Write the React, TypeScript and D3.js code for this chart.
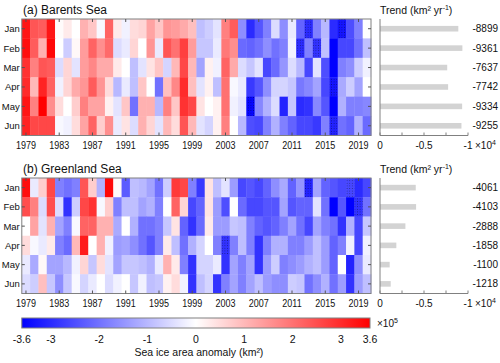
import { useRef, useEffect } from "react";
import * as d3 from "d3";

// sea ice area anomaly, x10^5 km^2, rows Jan..Jun, columns 1979..2020
const years = d3.range(1979, 2021);
const months = ["Jan", "Feb", "Mar", "Apr", "May", "Jun"];
const yearTicks = [1979, 1983, 1987, 1991, 1995, 1999, 2003, 2007, 2011, 2015, 2019];

const barentsAnomaly = [
  [3.3, 2.4, 2.3, 3.3, 0.05, 0.3, 0.0, 1.1, 0.8, -0.1, 2.2, 0.3, -0.2, 0.5, 0.6, 1.3, 0.8, 1.5, 1.4, 1.2, 0.9, -0.9, -0.7, -0.4, 1.8, 2.3, -1.6, -3.0, -2.4, -1.8, -0.5, -1.6, -0.3, -2.2, -3.0, -1.8, -1.0, -3.0, -3.3, -2.5, -1.8, 0.0],
  [3.4, 2.3, 1.1, 3.5, 0.0, -0.7, 0.1, 1.4, 2.2, 1.6, 2.1, -0.5, -0.3, 0.6, 0.0, 1.5, -0.3, 2.4, 2.0, 2.7, 1.4, -0.8, -0.8, -0.3, 1.9, 1.6, -2.1, -2.2, -2.0, -1.6, -2.0, -1.8, -0.2, -3.0, -1.8, -2.9, -0.9, -3.6, -2.6, -2.6, -2.0, -0.9],
  [2.9, 1.8, 2.4, 2.3, -0.5, 0.6, -0.4, 1.4, 1.7, 1.2, 1.2, 0.3, 0.0, -0.9, -0.4, 0.4, 0.8, -0.6, 1.0, 2.6, 1.0, -1.3, 0.2, -0.2, 2.2, 1.2, -0.5, -0.8, -0.4, -2.6, -2.1, -1.5, -0.5, -1.0, -2.6, -0.4, -2.5, -3.6, -1.8, -1.6, -0.7, -0.2],
  [3.0, 1.0, 3.1, 2.2, -0.2, 0.6, 1.2, 1.5, 2.3, 1.5, 0.5, -1.0, -0.3, -0.9, 0.8, 0.0, -2.0, 0.9, 1.7, 3.0, 0.9, -0.4, 0.2, -0.9, 2.0, -0.1, -0.3, -2.8, -2.4, -1.6, -0.6, -0.6, -0.8, -1.9, -1.7, -1.3, -2.6, -3.3, -1.2, -0.7, -1.3, 0.0],
  [3.3, 1.8, 3.6, 1.6, 0.5, 0.0, 0.7, 1.8, 1.3, 1.3, 0.2, -0.4, 0.8, -2.0, 1.1, 1.1, -1.0, 1.8, 0.8, 2.9, 2.6, 0.4, 0.0, 0.2, 2.0, -0.2, -0.4, -3.5, -1.7, -1.1, -0.5, -3.1, -0.8, -3.0, -2.9, -1.7, -2.4, -3.6, -1.1, -1.8, -1.8, -1.7],
  [3.1, 2.6, 2.6, 2.6, -0.1, -0.2, 0.5, 1.3, 2.2, 0.7, 1.6, -0.3, 0.4, -0.5, 1.1, 0.6, -0.4, 1.0, 0.5, 2.4, 1.0, -0.4, -0.6, 0.2, 1.8, 0.0, -1.0, -2.5, -2.6, -1.8, -1.1, -1.8, -2.2, -2.6, -2.6, -2.8, -1.8, -3.1, -2.0, -2.2, -1.1, -2.1],
];

const greenlandAnomaly = [
  [3.4, -0.3, 0.7, 2.6, -1.8, -2.0, -1.8, 2.4, 0.7, -1.1, 3.5, 0.1, -2.3, -0.9, -1.0, -1.3, -2.0, -0.7, 2.8, 2.6, -1.8, -2.8, 0.4, -0.9, -0.4, -1.4, -2.6, -2.4, -2.6, -2.2, -1.6, -1.2, -2.2, -1.5, -3.1, -1.3, -2.2, -2.4, -2.6, -2.6, -3.0, -2.6],
  [2.5, 1.8, -0.5, 2.5, -0.5, -2.9, -0.7, 2.6, 2.9, -0.1, 0.7, -1.8, -0.9, -0.9, -1.3, -1.1, -1.8, 0.0, 2.2, 0.6, -2.6, -2.2, 0.4, -1.4, -2.5, 0.0, -2.1, -2.6, -2.6, -2.4, -2.4, -1.3, -2.4, -2.2, -2.2, -0.4, -2.0, -3.6, -2.4, -3.6, -2.9, -2.0],
  [0.0, 1.3, -0.4, 1.1, -1.3, -1.8, -0.1, 2.2, 2.2, 1.1, 1.1, -1.2, 0.0, -1.1, -2.0, -2.0, -1.8, -0.8, 0.4, -2.2, -2.9, -2.1, 0.3, -1.4, -1.4, -0.8, -0.9, -1.8, -2.2, -2.4, -2.2, -1.8, -1.3, -2.0, -2.6, -1.3, -1.8, -2.0, -2.9, -1.1, -2.6, -0.8],
  [0.5, -0.1, -0.3, 0.3, -1.8, -2.1, 1.0, 3.2, 0.0, 1.1, -0.2, -1.4, -1.3, -1.6, -2.0, -2.4, -1.8, 0.3, -0.9, -2.0, -1.1, -0.6, 0.0, -1.8, -2.9, -1.8, -0.9, -1.8, -2.9, -1.8, -1.1, -1.1, -1.8, -1.8, -1.4, -0.9, -1.4, -2.2, -1.8, -0.2, -2.6, -0.2],
  [-0.3, -1.2, 0.1, -1.3, -1.3, -1.0, -0.2, 0.6, -0.8, 0.5, -0.4, -1.3, -0.8, -0.8, -0.9, -1.1, -0.3, 1.1, 0.3, -1.8, -2.9, -0.6, -0.6, -0.3, -2.9, -1.3, -1.8, -1.3, -2.9, -1.4, -0.7, -1.8, -1.6, -1.4, -1.1, -0.9, -1.4, -2.2, 0.0, -3.1, -1.6, -0.3],
  [-0.5, -0.7, 0.9, -0.8, -1.6, -0.8, -0.1, -0.6, -0.3, 0.0, -0.5, -0.2, 0.0, -0.8, -0.2, -0.9, -0.8, 0.2, 0.5, -0.2, -2.9, -0.9, -0.6, -2.9, -1.8, -1.3, -1.8, -1.3, -0.9, -1.4, -1.6, -1.6, -0.7, -0.8, -2.0, -1.6, -1.1, -2.0, -1.4, -2.9, -1.4, -0.9],
];

// stippled (significant) cells: [month index, year]
const barentsSig = [[0, 2013], [0, 2017], [1, 2012], [1, 2014], [3, 2016], [4, 2006], [5, 2016]];
const greenlandSig = [[0, 2013], [0, 2018], [1, 2019], [3, 2003]];

const barentsTrend = [-8899, -9361, -7637, -7742, -9334, -9255];
const greenlandTrend = [-4061, -4103, -2888, -1858, -1100, -1218];
const trendTicks = [0, -2500, -5000, -7500, -10000];
const trendLabels = [0, -5000, -10000];
const colorTicks = [-3.6, -3, -2, -1, 0, 1, 2, 3, 3.6];

const FONT = "'Liberation Sans', Arial, sans-serif";

export default function App() {
  const ref = useRef(null);

  function init() {
    ref.current.innerHTML = "";
    const width = 500,
      height = 363;
    const heat = { left: 21.8, right: 371 };
    const trendX = { left: 380, right: 468 };

    const svg = d3
      .select(ref.current)
      .append("svg")
      .attr("width", width)
      .attr("height", height)
      .style("position", "absolute")
      .style("left", 0)
      .style("top", 0)
      .style("font-family", FONT)
      .style("background", "#fff");

    const color = d3
      .scaleLinear()
      .domain([-3.6, 0, 3.6])
      .range(["#0000ff", "#ffffff", "#ff0000"])
      .clamp(true);

    const x = d3.scaleBand().domain(years).range([heat.left, heat.right]);
    const tx = d3.scaleLinear().domain([0, -10000]).range([trendX.left, trendX.right]);

    const defs = svg.append("defs");
    const pat = defs
      .append("pattern")
      .attr("id", "dots")
      .attr("width", 2.6)
      .attr("height", 2.6)
      .attr("patternUnits", "userSpaceOnUse");
    pat.append("circle").attr("cx", 1.3).attr("cy", 1.3).attr("r", 0.45).attr("fill", "#000").attr("opacity", 0.55);

    const grad = defs.append("linearGradient").attr("id", "cbar");
    grad.append("stop").attr("offset", "0%").attr("stop-color", "#0000ff");
    grad.append("stop").attr("offset", "50%").attr("stop-color", "#ffffff");
    grad.append("stop").attr("offset", "100%").attr("stop-color", "#ff0000");

    function panel({ top, bottom, title, data, sig, trend }) {
      const y = d3.scaleBand().domain(months).range([top, bottom]);
      const g = svg.append("g");

      // cells
      data.forEach((row, i) => {
        g.selectAll(null)
          .data(row)
          .join("rect")
          .attr("x", (d, j) => x(years[j]))
          .attr("y", y(months[i]))
          .attr("width", x.bandwidth() + 0.4)
          .attr("height", y.bandwidth() + 0.4)
          .attr("fill", (d) => color(d));
      });

      // stipple
      g.selectAll(null)
        .data(sig)
        .join("rect")
        .attr("x", (d) => x(d[1]))
        .attr("y", (d) => y(months[d[0]]))
        .attr("width", x.bandwidth())
        .attr("height", y.bandwidth())
        .attr("fill", "url(#dots)");

      // frame + inner ticks
      g.append("rect")
        .attr("x", heat.left)
        .attr("y", top)
        .attr("width", heat.right - heat.left)
        .attr("height", bottom - top)
        .attr("fill", "none")
        .attr("stroke", "#808080");

      const xc = (yr) => x(yr) + x.bandwidth() / 2;
      const yc = (m) => y(m) + y.bandwidth() / 2;
      [top, bottom].forEach((yy, k) => {
        g.selectAll(null)
          .data(yearTicks)
          .join("line")
          .attr("x1", xc)
          .attr("x2", xc)
          .attr("y1", yy)
          .attr("y2", yy + (k === 0 ? 3 : -3))
          .attr("stroke", "#555");
      });
      [heat.left, heat.right].forEach((xx, k) => {
        g.selectAll(null)
          .data(months)
          .join("line")
          .attr("x1", xx)
          .attr("x2", xx + (k === 0 ? 3 : -3))
          .attr("y1", yc)
          .attr("y2", yc)
          .attr("stroke", "#555");
      });

      // labels
      g.selectAll(null)
        .data(months)
        .join("text")
        .attr("x", heat.left - 2)
        .attr("y", (m) => yc(m) + 3.5)
        .attr("text-anchor", "end")
        .attr("font-size", 9.5)
        .attr("fill", "#111")
        .text((m) => m);

      g.selectAll(null)
        .data(yearTicks)
        .join("text")
        .attr("transform", (yr) => `translate(${xc(yr)},${bottom + 13}) scale(0.9,1)`)
        .attr("text-anchor", "middle")
        .attr("font-size", 10)
        .attr("fill", "#111")
        .text((yr) => yr);

      g.append("text")
        .attr("x", 23)
        .attr("y", top - 5)
        .attr("font-size", 12)
        .attr("fill", "#111")
        .text(title);

      // trend panel
      const t = svg.append("g");
      t.append("text")
        .attr("x", trendX.left)
        .attr("y", top - 5)
        .attr("font-size", 10.5)
        .attr("fill", "#111")
        .html('Trend (km² yr<tspan dy="-4" font-size="7">-1</tspan><tspan dy="4">)</tspan>');

      // negative trends plotted rightwards from 0
      t.selectAll(null)
        .data(trend)
        .join("rect")
        .attr("x", tx(0))
        .attr("width", (d) => tx(d) - tx(0))
        .attr("y", (d, i) => yc(months[i]) - 2.8)
        .attr("height", 5.6)
        .attr("fill", "#d3d3d3");

      t.selectAll(null)
        .data(trend)
        .join("text")
        .attr("x", 498)
        .attr("y", (d, i) => yc(months[i]) + 3.5)
        .attr("text-anchor", "end")
        .attr("font-size", 10)
        .attr("fill", "#111")
        .text((d) => d);

      t.append("line")
        .attr("x1", tx(0))
        .attr("x2", tx(0))
        .attr("y1", top)
        .attr("y2", bottom)
        .attr("stroke", "#808080");
      t.append("line")
        .attr("x1", tx(0))
        .attr("x2", tx(-10000))
        .attr("y1", bottom)
        .attr("y2", bottom)
        .attr("stroke", "#808080");
      t.selectAll(null)
        .data(trendTicks)
        .join("line")
        .attr("x1", tx)
        .attr("x2", tx)
        .attr("y1", bottom)
        .attr("y2", bottom - 3)
        .attr("stroke", "#808080");
      t.selectAll(null)
        .data(trendLabels)
        .join("text")
        .attr("x", tx)
        .attr("y", bottom + 13)
        .attr("text-anchor", "middle")
        .attr("font-size", 10)
        .attr("fill", "#111")
        .text((d) => (d === 0 ? "0" : String(d / 10000)));
      t.append("text")
        .attr("x", tx(-10000) + 7)
        .attr("y", bottom + 13)
        .attr("font-size", 10)
        .attr("fill", "#111")
        .html('×10<tspan dy="-4" font-size="7">4</tspan>');
    }

    panel({
      top: 19,
      bottom: 135.5,
      title: "(a) Barents Sea",
      data: barentsAnomaly,
      sig: barentsSig,
      trend: barentsTrend,
    });
    panel({
      top: 178,
      bottom: 293.5,
      title: "(b) Greenland Sea",
      data: greenlandAnomaly,
      sig: greenlandSig,
      trend: greenlandTrend,
    });

    // colorbar
    const cb = { left: 21.8, right: 370, top: 318, bottom: 328 };
    const cx = d3.scaleLinear().domain([-3.6, 3.6]).range([cb.left, cb.right]);
    const c = svg.append("g");
    c.append("rect")
      .attr("x", cb.left)
      .attr("y", cb.top)
      .attr("width", cb.right - cb.left)
      .attr("height", cb.bottom - cb.top)
      .attr("fill", "url(#cbar)")
      .attr("stroke", "#808080");
    c.selectAll(null)
      .data(colorTicks)
      .join("text")
      .attr("x", cx)
      .attr("y", 343)
      .attr("text-anchor", "middle")
      .attr("font-size", 10.5)
      .attr("fill", "#111")
      .text((d) => String(d));
    c.append("text")
      .attr("x", 377)
      .attr("y", 327)
      .attr("font-size", 10)
      .attr("fill", "#111")
      .html('×10<tspan dy="-4" font-size="7">5</tspan>');
    c.append("text")
      .attr("x", cx(0) + 3)
      .attr("y", 356)
      .attr("text-anchor", "middle")
      .attr("font-size", 10.5)
      .attr("fill", "#111")
      .text("Sea ice area anomaly  (km²)");
  }

  useEffect(init, []);

  return (
    <>
      <div ref={ref}></div>
    </>
  );
}
